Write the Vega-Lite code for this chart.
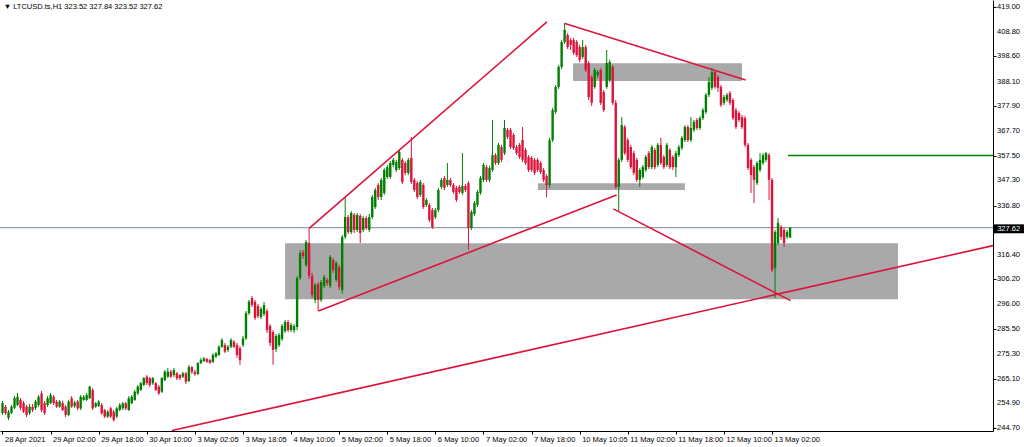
{
"$schema": "https://vega.github.io/schema/vega-lite/v6.json",
"width": 993, "height": 431,
"autosize": "none",
"padding": {"left": 0, "top": 0, "right": 31, "bottom": 16},
"background": "white",
"config": {"view": {"stroke": null}, "axis": {"labelFont": "Liberation Sans", "labelFontSize": 7.5, "labelColor": "#000", "domainColor": "#000", "tickColor": "#000", "grid": false, "domainWidth": 1, "tickWidth": 1}},
"datasets": {
"candles": [
{"i":0,"o":250.9,"h":255.9,"l":250.1,"c":255.0},{"i":1,"o":253.5,"h":254.2,"l":250.1,"c":250.8},{"i":2,"o":248.8,"h":252.1,"l":248.0,"c":251.4},{"i":3,"o":250.9,"h":254.2,"l":250.5,"c":253.5},{"i":4,"o":253.0,"h":257.9,"l":252.5,"c":257.1},{"i":5,"o":254.2,"h":259.2,"l":253.8,"c":257.6},{"i":6,"o":256.3,"h":257.1,"l":252.1,"c":253.0},{"i":7,"o":255.0,"h":255.9,"l":250.9,"c":251.4},{"i":8,"o":253.5,"h":254.2,"l":249.2,"c":250.1},{"i":9,"o":250.9,"h":254.6,"l":250.1,"c":253.5},
{"i":10,"o":253.5,"h":254.6,"l":251.3,"c":252.1},{"i":11,"o":253.0,"h":256.3,"l":252.1,"c":255.6},{"i":12,"o":254.2,"h":258.3,"l":253.4,"c":257.6},{"i":13,"o":259.0,"h":260.0,"l":251.3,"c":252.1},{"i":14,"o":255.0,"h":255.9,"l":250.1,"c":250.8},{"i":15,"o":254.2,"h":257.9,"l":253.4,"c":257.0},{"i":16,"o":255.0,"h":259.2,"l":254.6,"c":258.3},{"i":17,"o":257.6,"h":258.3,"l":254.2,"c":255.0},{"i":18,"o":255.6,"h":256.3,"l":253.0,"c":253.5},{"i":19,"o":253.5,"h":256.3,"l":253.0,"c":255.6},
{"i":20,"o":255.0,"h":255.9,"l":251.7,"c":252.1},{"i":21,"o":253.5,"h":254.2,"l":249.2,"c":250.1},{"i":22,"o":250.1,"h":256.3,"l":249.6,"c":255.6},{"i":23,"o":257.0,"h":257.9,"l":253.0,"c":253.5},{"i":24,"o":253.8,"h":255.9,"l":253.0,"c":255.2},{"i":25,"o":255.6,"h":256.3,"l":252.1,"c":252.8},{"i":26,"o":252.8,"h":258.3,"l":252.1,"c":257.6},{"i":27,"o":256.3,"h":258.3,"l":255.9,"c":257.6},{"i":28,"o":256.3,"h":259.2,"l":255.9,"c":258.3},{"i":29,"o":257.0,"h":262.1,"l":256.7,"c":261.8},
{"i":30,"o":260.4,"h":261.2,"l":252.1,"c":252.8},{"i":31,"o":253.5,"h":255.4,"l":253.0,"c":254.9},{"i":32,"o":253.8,"h":256.3,"l":253.4,"c":255.6},{"i":33,"o":254.2,"h":255.0,"l":250.1,"c":250.8},{"i":34,"o":252.1,"h":252.5,"l":248.8,"c":249.4},{"i":35,"o":249.4,"h":252.1,"l":248.8,"c":251.4},{"i":36,"o":252.8,"h":253.4,"l":248.8,"c":249.4},{"i":37,"o":251.4,"h":252.1,"l":247.3,"c":248.0},{"i":38,"o":249.4,"h":253.4,"l":248.8,"c":252.8},{"i":39,"o":252.1,"h":255.0,"l":251.7,"c":254.2},
{"i":40,"o":252.8,"h":255.4,"l":252.1,"c":254.9},{"i":41,"o":254.9,"h":255.4,"l":252.1,"c":252.8},{"i":42,"o":252.1,"h":257.9,"l":251.7,"c":257.0},{"i":43,"o":254.9,"h":258.3,"l":254.6,"c":257.6},{"i":44,"o":256.3,"h":260.4,"l":255.9,"c":259.7},{"i":45,"o":259.0,"h":262.5,"l":258.3,"c":261.8},{"i":46,"o":260.4,"h":263.7,"l":260.0,"c":263.2},{"i":47,"o":262.5,"h":265.8,"l":262.1,"c":265.3},{"i":48,"o":265.9,"h":266.6,"l":262.5,"c":263.2},{"i":49,"o":265.3,"h":265.8,"l":261.6,"c":262.5},
{"i":50,"o":263.2,"h":265.8,"l":262.5,"c":265.3},{"i":51,"o":263.2,"h":263.7,"l":260.0,"c":260.4},{"i":52,"o":261.8,"h":262.5,"l":258.3,"c":259.0},{"i":53,"o":259.7,"h":265.8,"l":259.2,"c":265.3},{"i":54,"o":264.5,"h":268.7,"l":264.1,"c":268.0},{"i":55,"o":265.9,"h":269.5,"l":265.4,"c":268.0},{"i":56,"o":268.0,"h":268.7,"l":265.4,"c":265.9},{"i":57,"o":266.6,"h":269.5,"l":265.8,"c":268.7},{"i":58,"o":267.3,"h":267.9,"l":264.5,"c":265.3},{"i":59,"o":266.6,"h":267.0,"l":264.5,"c":265.3},
{"i":60,"o":265.9,"h":267.9,"l":265.4,"c":267.3},{"i":61,"o":267.3,"h":267.9,"l":262.9,"c":263.8},{"i":62,"o":264.1,"h":270.8,"l":263.7,"c":269.9},{"i":63,"o":269.9,"h":270.3,"l":267.0,"c":267.9},{"i":64,"o":267.9,"h":268.7,"l":266.2,"c":267.0},{"i":65,"o":267.0,"h":272.0,"l":266.6,"c":271.5},{"i":66,"o":271.5,"h":273.7,"l":271.2,"c":272.8},{"i":67,"o":272.4,"h":274.1,"l":272.0,"c":273.5},{"i":68,"o":273.3,"h":273.7,"l":271.6,"c":272.1},{"i":69,"o":272.8,"h":273.3,"l":271.2,"c":271.7},
{"i":70,"o":272.0,"h":275.7,"l":271.6,"c":274.9},{"i":71,"o":274.2,"h":276.1,"l":273.7,"c":275.6},{"i":72,"o":274.9,"h":279.0,"l":274.5,"c":278.3},{"i":73,"o":278.3,"h":281.9,"l":277.8,"c":281.1},{"i":74,"o":279.0,"h":279.9,"l":275.7,"c":276.3},{"i":75,"o":277.0,"h":279.0,"l":276.1,"c":278.3},{"i":76,"o":278.3,"h":281.9,"l":277.8,"c":281.1},{"i":77,"o":280.4,"h":281.1,"l":277.8,"c":278.3},{"i":78,"o":279.0,"h":279.9,"l":273.7,"c":274.9},{"i":79,"o":277.7,"h":278.6,"l":270.8,"c":272.8},
{"i":80,"o":279.0,"h":282.8,"l":278.2,"c":281.8},{"i":81,"o":281.8,"h":293.1,"l":281.1,"c":292.2},{"i":82,"o":292.2,"h":297.7,"l":291.5,"c":297.0},{"i":83,"o":298.5,"h":299.3,"l":294.8,"c":295.6},{"i":84,"o":296.9,"h":297.7,"l":289.4,"c":290.2},{"i":85,"o":295.2,"h":296.0,"l":290.2,"c":291.0},{"i":86,"o":290.6,"h":294.8,"l":289.8,"c":294.0},{"i":87,"o":291.9,"h":296.9,"l":291.0,"c":295.6},{"i":88,"o":293.1,"h":294.0,"l":284.0,"c":285.2},{"i":89,"o":286.9,"h":287.7,"l":278.6,"c":279.9},
{"i":90,"o":284.4,"h":285.2,"l":270.8,"c":277.0},{"i":91,"o":277.4,"h":283.6,"l":276.1,"c":282.8},{"i":92,"o":279.0,"h":284.0,"l":278.2,"c":283.2},{"i":93,"o":281.5,"h":287.7,"l":280.7,"c":286.9},{"i":94,"o":284.8,"h":289.4,"l":284.0,"c":288.6},{"i":95,"o":288.6,"h":289.4,"l":284.4,"c":285.2},{"i":96,"o":285.2,"h":288.2,"l":284.4,"c":287.3},{"i":97,"o":285.2,"h":287.7,"l":284.0,"c":286.9},{"i":98,"o":286.5,"h":307.6,"l":285.2,"c":306.8},{"i":99,"o":306.8,"h":318.4,"l":306.0,"c":317.1},
{"i":100,"o":317.5,"h":318.4,"l":314.7,"c":315.9},{"i":101,"o":312.2,"h":322.5,"l":311.3,"c":321.7},{"i":102,"o":321.3,"h":327.5,"l":306.4,"c":307.6},{"i":103,"o":307.6,"h":308.9,"l":298.5,"c":299.7},{"i":104,"o":297.7,"h":304.7,"l":296.4,"c":303.9},{"i":105,"o":304.3,"h":305.1,"l":293.1,"c":297.7},{"i":106,"o":297.7,"h":306.0,"l":296.9,"c":305.1},{"i":107,"o":303.5,"h":308.0,"l":302.6,"c":307.2},{"i":108,"o":306.0,"h":306.8,"l":303.5,"c":304.7},{"i":109,"o":303.5,"h":316.3,"l":302.6,"c":315.5},
{"i":110,"o":314.2,"h":315.1,"l":308.9,"c":310.1},{"i":111,"o":306.0,"h":313.8,"l":305.1,"c":313.0},{"i":112,"o":311.3,"h":312.2,"l":301.8,"c":303.1},{"i":113,"o":301.8,"h":324.6,"l":300.2,"c":323.8},{"i":114,"o":323.8,"h":340.3,"l":322.9,"c":332.0},{"i":115,"o":332.0,"h":332.9,"l":325.0,"c":325.8},{"i":116,"o":325.8,"h":334.5,"l":325.0,"c":333.7},{"i":117,"o":332.9,"h":333.7,"l":325.4,"c":326.7},{"i":118,"o":326.7,"h":333.7,"l":325.8,"c":332.9},{"i":119,"o":332.5,"h":333.3,"l":321.3,"c":325.4},
{"i":120,"o":326.7,"h":332.5,"l":325.8,"c":331.6},{"i":121,"o":331.6,"h":332.5,"l":326.7,"c":327.5},{"i":122,"o":326.7,"h":333.3,"l":325.8,"c":332.0},{"i":123,"o":332.0,"h":341.2,"l":331.2,"c":340.3},{"i":124,"o":336.2,"h":344.1,"l":335.4,"c":343.2},{"i":125,"o":345.3,"h":346.1,"l":339.1,"c":340.3},{"i":126,"o":340.3,"h":348.2,"l":339.1,"c":347.4},{"i":127,"o":342.0,"h":352.3,"l":341.2,"c":351.5},{"i":128,"o":348.6,"h":353.6,"l":347.8,"c":352.7},{"i":129,"o":348.6,"h":355.2,"l":347.8,"c":354.4},
{"i":130,"o":353.6,"h":356.5,"l":352.7,"c":355.7},{"i":131,"o":351.5,"h":355.7,"l":350.7,"c":354.8},{"i":132,"o":352.3,"h":359.8,"l":351.5,"c":359.0},{"i":133,"o":355.7,"h":356.5,"l":345.7,"c":346.5},{"i":134,"o":354.4,"h":355.2,"l":349.4,"c":350.3},{"i":135,"o":350.3,"h":356.5,"l":349.4,"c":355.7},{"i":136,"o":356.5,"h":365.2,"l":345.7,"c":346.5},{"i":137,"o":347.4,"h":348.2,"l":342.4,"c":343.2},{"i":138,"o":346.1,"h":346.9,"l":339.5,"c":340.3},{"i":139,"o":341.2,"h":347.4,"l":340.3,"c":346.5},
{"i":140,"o":345.3,"h":346.1,"l":335.4,"c":336.2},{"i":141,"o":337.0,"h":339.9,"l":336.2,"c":339.1},{"i":142,"o":337.0,"h":337.8,"l":330.0,"c":330.8},{"i":143,"o":334.9,"h":335.8,"l":327.1,"c":327.9},{"i":144,"o":332.0,"h":335.8,"l":331.2,"c":334.9},{"i":145,"o":334.9,"h":344.1,"l":334.1,"c":343.2},{"i":146,"o":344.5,"h":348.2,"l":343.6,"c":347.4},{"i":147,"o":348.2,"h":349.0,"l":343.2,"c":344.1},{"i":148,"o":345.3,"h":354.4,"l":344.5,"c":347.4},{"i":149,"o":347.4,"h":348.2,"l":344.5,"c":345.3},
{"i":150,"o":345.3,"h":346.1,"l":341.6,"c":342.4},{"i":151,"o":344.1,"h":344.9,"l":338.3,"c":339.1},{"i":152,"o":344.5,"h":345.3,"l":341.6,"c":342.4},{"i":153,"o":342.0,"h":358.5,"l":341.2,"c":344.9},{"i":154,"o":344.9,"h":345.7,"l":342.4,"c":343.2},{"i":155,"o":346.1,"h":346.9,"l":318.4,"c":327.5},{"i":156,"o":327.5,"h":334.9,"l":326.7,"c":334.1},{"i":157,"o":333.3,"h":338.7,"l":332.5,"c":337.8},{"i":158,"o":337.0,"h":343.2,"l":336.2,"c":342.4},{"i":159,"o":342.0,"h":349.0,"l":341.2,"c":348.2},
{"i":160,"o":347.4,"h":354.4,"l":346.5,"c":353.6},{"i":161,"o":352.7,"h":353.6,"l":346.5,"c":347.4},{"i":162,"o":347.4,"h":353.2,"l":346.5,"c":352.3},{"i":163,"o":351.5,"h":372.2,"l":350.7,"c":357.7},{"i":164,"o":357.7,"h":358.5,"l":353.6,"c":354.4},{"i":165,"o":354.4,"h":362.7,"l":353.6,"c":361.9},{"i":166,"o":361.0,"h":361.9,"l":354.8,"c":355.7},{"i":167,"o":358.5,"h":372.2,"l":357.7,"c":368.9},{"i":168,"o":368.1,"h":368.9,"l":364.3,"c":365.2},{"i":169,"o":368.1,"h":368.9,"l":360.2,"c":361.0},
{"i":170,"o":366.0,"h":366.8,"l":359.8,"c":360.6},{"i":171,"o":361.0,"h":361.9,"l":357.7,"c":358.5},{"i":172,"o":361.9,"h":362.7,"l":356.1,"c":356.9},{"i":173,"o":363.9,"h":369.3,"l":354.8,"c":355.7},{"i":174,"o":359.8,"h":360.6,"l":353.6,"c":354.4},{"i":175,"o":356.9,"h":357.7,"l":350.7,"c":351.5},{"i":176,"o":356.5,"h":357.3,"l":350.7,"c":351.5},{"i":177,"o":355.7,"h":356.5,"l":349.4,"c":350.3},{"i":178,"o":355.7,"h":356.5,"l":350.7,"c":351.5},{"i":179,"o":354.4,"h":355.2,"l":349.8,"c":350.7},
{"i":180,"o":351.5,"h":352.3,"l":346.5,"c":347.4},{"i":181,"o":349.0,"h":349.8,"l":340.3,"c":345.3},{"i":182,"o":345.3,"h":364.8,"l":344.1,"c":363.9},{"i":183,"o":363.9,"h":377.2,"l":363.1,"c":376.3},{"i":184,"o":375.5,"h":386.7,"l":374.7,"c":385.9},{"i":185,"o":385.9,"h":395.0,"l":385.1,"c":394.2},{"i":186,"o":394.2,"h":405.3,"l":393.3,"c":404.5},{"i":187,"o":404.5,"h":412.4,"l":403.7,"c":409.5},{"i":188,"o":407.4,"h":408.2,"l":401.6,"c":402.4},{"i":189,"o":405.3,"h":406.2,"l":401.2,"c":403.3},
{"i":190,"o":405.3,"h":406.2,"l":399.1,"c":400.0},{"i":191,"o":404.5,"h":405.3,"l":398.3,"c":399.1},{"i":192,"o":402.4,"h":403.3,"l":396.2,"c":397.1},{"i":193,"o":398.3,"h":405.3,"l":397.5,"c":402.4},{"i":194,"o":402.4,"h":403.3,"l":392.1,"c":392.9},{"i":195,"o":395.8,"h":396.6,"l":380.5,"c":381.7},{"i":196,"o":390.0,"h":390.8,"l":378.0,"c":379.3},{"i":197,"o":385.9,"h":393.7,"l":385.1,"c":392.9},{"i":198,"o":390.8,"h":392.9,"l":389.6,"c":392.1},{"i":199,"o":392.9,"h":393.7,"l":378.4,"c":379.3},
{"i":200,"o":383.8,"h":384.6,"l":375.5,"c":376.3},{"i":201,"o":385.9,"h":401.2,"l":385.1,"c":395.8},{"i":202,"o":388.8,"h":397.1,"l":387.9,"c":396.2},{"i":203,"o":394.2,"h":395.0,"l":378.4,"c":379.3},{"i":204,"o":379.3,"h":380.5,"l":343.6,"c":344.5},{"i":205,"o":344.5,"h":356.5,"l":334.5,"c":355.7},{"i":206,"o":355.7,"h":373.4,"l":354.8,"c":370.1},{"i":207,"o":369.3,"h":370.1,"l":357.7,"c":358.5},{"i":208,"o":363.9,"h":364.8,"l":354.8,"c":355.7},{"i":209,"o":361.0,"h":361.9,"l":351.9,"c":352.7},
{"i":210,"o":358.5,"h":359.4,"l":349.4,"c":350.3},{"i":211,"o":355.7,"h":356.5,"l":346.5,"c":347.4},{"i":212,"o":347.4,"h":352.3,"l":344.5,"c":351.5},{"i":213,"o":348.6,"h":353.6,"l":347.8,"c":352.7},{"i":214,"o":351.5,"h":357.7,"l":350.7,"c":356.9},{"i":215,"o":358.5,"h":359.4,"l":351.9,"c":352.7},{"i":216,"o":352.7,"h":361.9,"l":351.9,"c":361.0},{"i":217,"o":359.8,"h":360.6,"l":351.9,"c":352.7},{"i":218,"o":353.6,"h":362.7,"l":352.7,"c":361.9},{"i":219,"o":361.9,"h":364.8,"l":353.6,"c":354.4},
{"i":220,"o":356.9,"h":357.7,"l":351.9,"c":352.7},{"i":221,"o":353.6,"h":362.7,"l":352.7,"c":361.9},{"i":222,"o":359.8,"h":360.6,"l":351.9,"c":352.7},{"i":223,"o":356.9,"h":357.7,"l":351.5,"c":352.7},{"i":224,"o":352.7,"h":359.4,"l":348.6,"c":358.5},{"i":225,"o":357.7,"h":361.9,"l":356.9,"c":361.0},{"i":226,"o":360.6,"h":365.6,"l":359.8,"c":364.8},{"i":227,"o":363.9,"h":370.1,"l":363.1,"c":369.3},{"i":228,"o":369.3,"h":370.1,"l":363.1,"c":363.9},{"i":229,"o":363.9,"h":373.4,"l":363.1,"c":368.9},
{"i":230,"o":368.1,"h":372.2,"l":367.2,"c":371.4},{"i":231,"o":372.2,"h":373.0,"l":368.1,"c":368.9},{"i":232,"o":368.9,"h":373.9,"l":368.1,"c":373.0},{"i":233,"o":373.0,"h":377.2,"l":372.2,"c":376.3},{"i":234,"o":375.5,"h":383.4,"l":374.7,"c":382.6},{"i":235,"o":382.6,"h":390.0,"l":381.7,"c":387.9},{"i":236,"o":385.5,"h":393.7,"l":384.6,"c":392.1},{"i":237,"o":392.1,"h":392.9,"l":385.1,"c":385.9},{"i":238,"o":390.0,"h":390.8,"l":383.8,"c":385.5},{"i":239,"o":385.9,"h":386.7,"l":377.6,"c":378.4},
{"i":240,"o":379.3,"h":382.6,"l":378.4,"c":381.7},{"i":241,"o":380.5,"h":383.4,"l":379.7,"c":382.6},{"i":242,"o":383.4,"h":384.2,"l":378.4,"c":379.3},{"i":243,"o":380.5,"h":381.3,"l":372.2,"c":373.0},{"i":244,"o":376.3,"h":377.2,"l":368.5,"c":369.3},{"i":245,"o":375.1,"h":375.9,"l":371.4,"c":372.2},{"i":246,"o":373.4,"h":374.3,"l":368.5,"c":369.3},{"i":247,"o":373.0,"h":373.9,"l":361.0,"c":361.9},{"i":248,"o":361.9,"h":362.7,"l":351.5,"c":352.3},{"i":249,"o":355.7,"h":356.5,"l":342.0,"c":349.4},
{"i":250,"o":352.7,"h":353.6,"l":337.8,"c":347.4},{"i":251,"o":346.1,"h":355.2,"l":345.3,"c":354.4},{"i":252,"o":351.5,"h":358.5,"l":350.7,"c":355.7},{"i":253,"o":354.4,"h":358.5,"l":353.6,"c":357.7},{"i":254,"o":355.7,"h":359.0,"l":354.8,"c":358.5},{"i":255,"o":357.7,"h":358.5,"l":339.1,"c":347.4},{"i":256,"o":347.4,"h":348.2,"l":309.3,"c":310.1},{"i":257,"o":310.9,"h":326.7,"l":298.5,"c":325.8},{"i":258,"o":321.3,"h":331.6,"l":320.4,"c":329.6},{"i":259,"o":327.9,"h":328.7,"l":322.5,"c":323.8},
{"i":260,"o":326.7,"h":327.5,"l":319.6,"c":321.3},{"i":261,"o":323.8,"h":326.7,"l":322.9,"c":325.8},{"i":262,"o":323.52,"h":327.84,"l":323.52,"c":327.62}
],
"zones": [
{"x1":94.0,"x2":297.9,"top":321.15,"bot":298.0},
{"x1":189.8,"x2":246.0,"top":395.7,"bot":388.4},
{"x1":178.1,"x2":227.0,"top":346.0,"bot":343.2}
],
"trends": [
{"x1":102.1,"y1":327.4,"x2":181.1,"y2":412.8},
{"x1":105.1,"y1":293.1,"x2":204.3,"y2":341.2},
{"x1":187.1,"y1":412.2,"x2":247.2,"y2":388.8},
{"x1":203.2,"y1":335.4,"x2":262.2,"y2":297.4},
{"x1":56.4,"y1":243.6,"x2":329.5,"y2":320.2}
],
"levels": [{"x1":261.3,"x2":329.5,"p":357.55}],
"bid": [{"p":327.62}],
"yticks": [{"v":244.7},{"v":254.9},{"v":265.1},{"v":275.3},{"v":285.5},{"v":296.0},{"v":306.2},{"v":316.4},{"v":336.8},{"v":347.3},{"v":357.5},{"v":367.7},{"v":377.9},{"v":388.1},{"v":398.6},{"v":408.8},{"v":419.0}]
},
"layer": [
{
"data": {"name": "zones"},
"mark": {"type": "rect", "color": "#a9a9a9"},
"encoding": {
"x": {"field": "x1", "type": "quantitative", "title": null, "scale": {"domain": [-0.83, 329.5], "nice": false, "zero": false, "padding": 0},
"axis": {"orient": "bottom", "values": [0,16,32,48,64,80,96,112,128,144,160,176,192,208,224,240,256], "labelExpr": "['28 Apr 2021','29 Apr 02:00','29 Apr 18:00','30 Apr 10:00','3 May 02:05','3 May 18:05','4 May 10:00','5 May 02:00','5 May 18:00','6 May 10:00','7 May 02:00','7 May 18:00','10 May 10:05','11 May 02:00','11 May 18:00','12 May 10:00','13 May 02:00'][round(datum.value/16)]", "labelAlign": "left", "labelOffset": 2, "labelPadding": 1, "tickSize": 3, "labelFlush": false, "labelOverlap": false, "labelBound": false}},
"x2": {"field": "x2"},
"y": {"field": "top", "type": "quantitative", "title": null, "scale": {"domain": [243.43, 421.9], "nice": false, "zero": false, "padding": 0},
"axis": {"orient": "right", "values": [244.7,254.9,265.1,275.3,285.5,296.0,306.2,316.4,336.8,347.3,357.5,367.7,377.9,388.1,398.6,408.8,419.0], "labels": false, "tickSize": 3}},
"y2": {"field": "bot"}
}
},
{
"data": {"name": "bid"},
"mark": {"type": "rule", "color": "#778899", "strokeWidth": 1},
"encoding": {"y": {"field": "p", "type": "quantitative", "title": null}}
},
{
"data": {"name": "levels"},
"mark": {"type": "rule", "color": "#008000", "strokeWidth": 1.5},
"encoding": {
"x": {"field": "x1", "type": "quantitative", "title": null},
"x2": {"field": "x2"},
"y": {"field": "p", "type": "quantitative", "title": null}
}
},
{
"data": {"name": "candles"},
"mark": {"type": "rule", "strokeWidth": 1},
"encoding": {
"x": {"field": "i", "type": "quantitative", "title": null},
"y": {"field": "l", "type": "quantitative", "title": null},
"y2": {"field": "h"},
"color": {"condition": {"test": "datum.c >= datum.o", "value": "#008000"}, "value": "#dc143c"}
}
},
{
"data": {"name": "candles"},
"mark": {"type": "bar", "size": 2.4, "minBandSize": 1},
"encoding": {
"x": {"field": "i", "type": "quantitative", "title": null},
"y": {"field": "o", "type": "quantitative", "title": null},
"y2": {"field": "c"},
"color": {"condition": {"test": "datum.c >= datum.o", "value": "#008000"}, "value": "#dc143c"}
}
},
{
"data": {"name": "trends"},
"mark": {"type": "rule", "color": "#dc143c", "strokeWidth": 1.6},
"encoding": {
"x": {"field": "x1", "type": "quantitative", "title": null},
"x2": {"field": "x2"},
"y": {"field": "y1", "type": "quantitative", "title": null},
"y2": {"field": "y2"}
}
},
{
"data": {"name": "yticks"},
"mark": {"type": "text", "color": "#000000", "font": "Liberation Sans", "fontSize": 7.5, "align": "left", "baseline": "middle", "clip": false},
"encoding": {
"x": {"datum": 330.85, "type": "quantitative"},
"y": {"field": "v", "type": "quantitative", "title": null},
"text": {"field": "v", "type": "quantitative", "format": ".2f"}
}
},
{
"data": {"values": [{}]},
"mark": {"type": "rect", "color": "#000000", "clip": false},
"encoding": {
"x": {"datum": 329.6, "type": "quantitative"},
"x2": {"datum": 339.8},
"y": {"datum": 329.0, "type": "quantitative"},
"y2": {"datum": 325.3}
}
},
{
"data": {"values": [{"t": "327.62"}]},
"mark": {"type": "text", "color": "#ffffff", "font": "Liberation Sans", "fontSize": 7.5, "align": "center", "baseline": "middle", "clip": false},
"encoding": {
"x": {"datum": 334.7, "type": "quantitative"},
"y": {"datum": 327.2, "type": "quantitative"},
"text": {"field": "t"}
}
},
{
"data": {"values": [{"t": "▼ LTCUSD.ts,H1  323.52 327.84 323.52 327.62"}]},
"mark": {"type": "text", "color": "#000000", "font": "Liberation Sans", "fontSize": 7.5, "align": "left", "baseline": "middle"},
"encoding": {
"x": {"datum": 0.4, "type": "quantitative"},
"y": {"datum": 419.0, "type": "quantitative"},
"text": {"field": "t"}
}
}
]
}
